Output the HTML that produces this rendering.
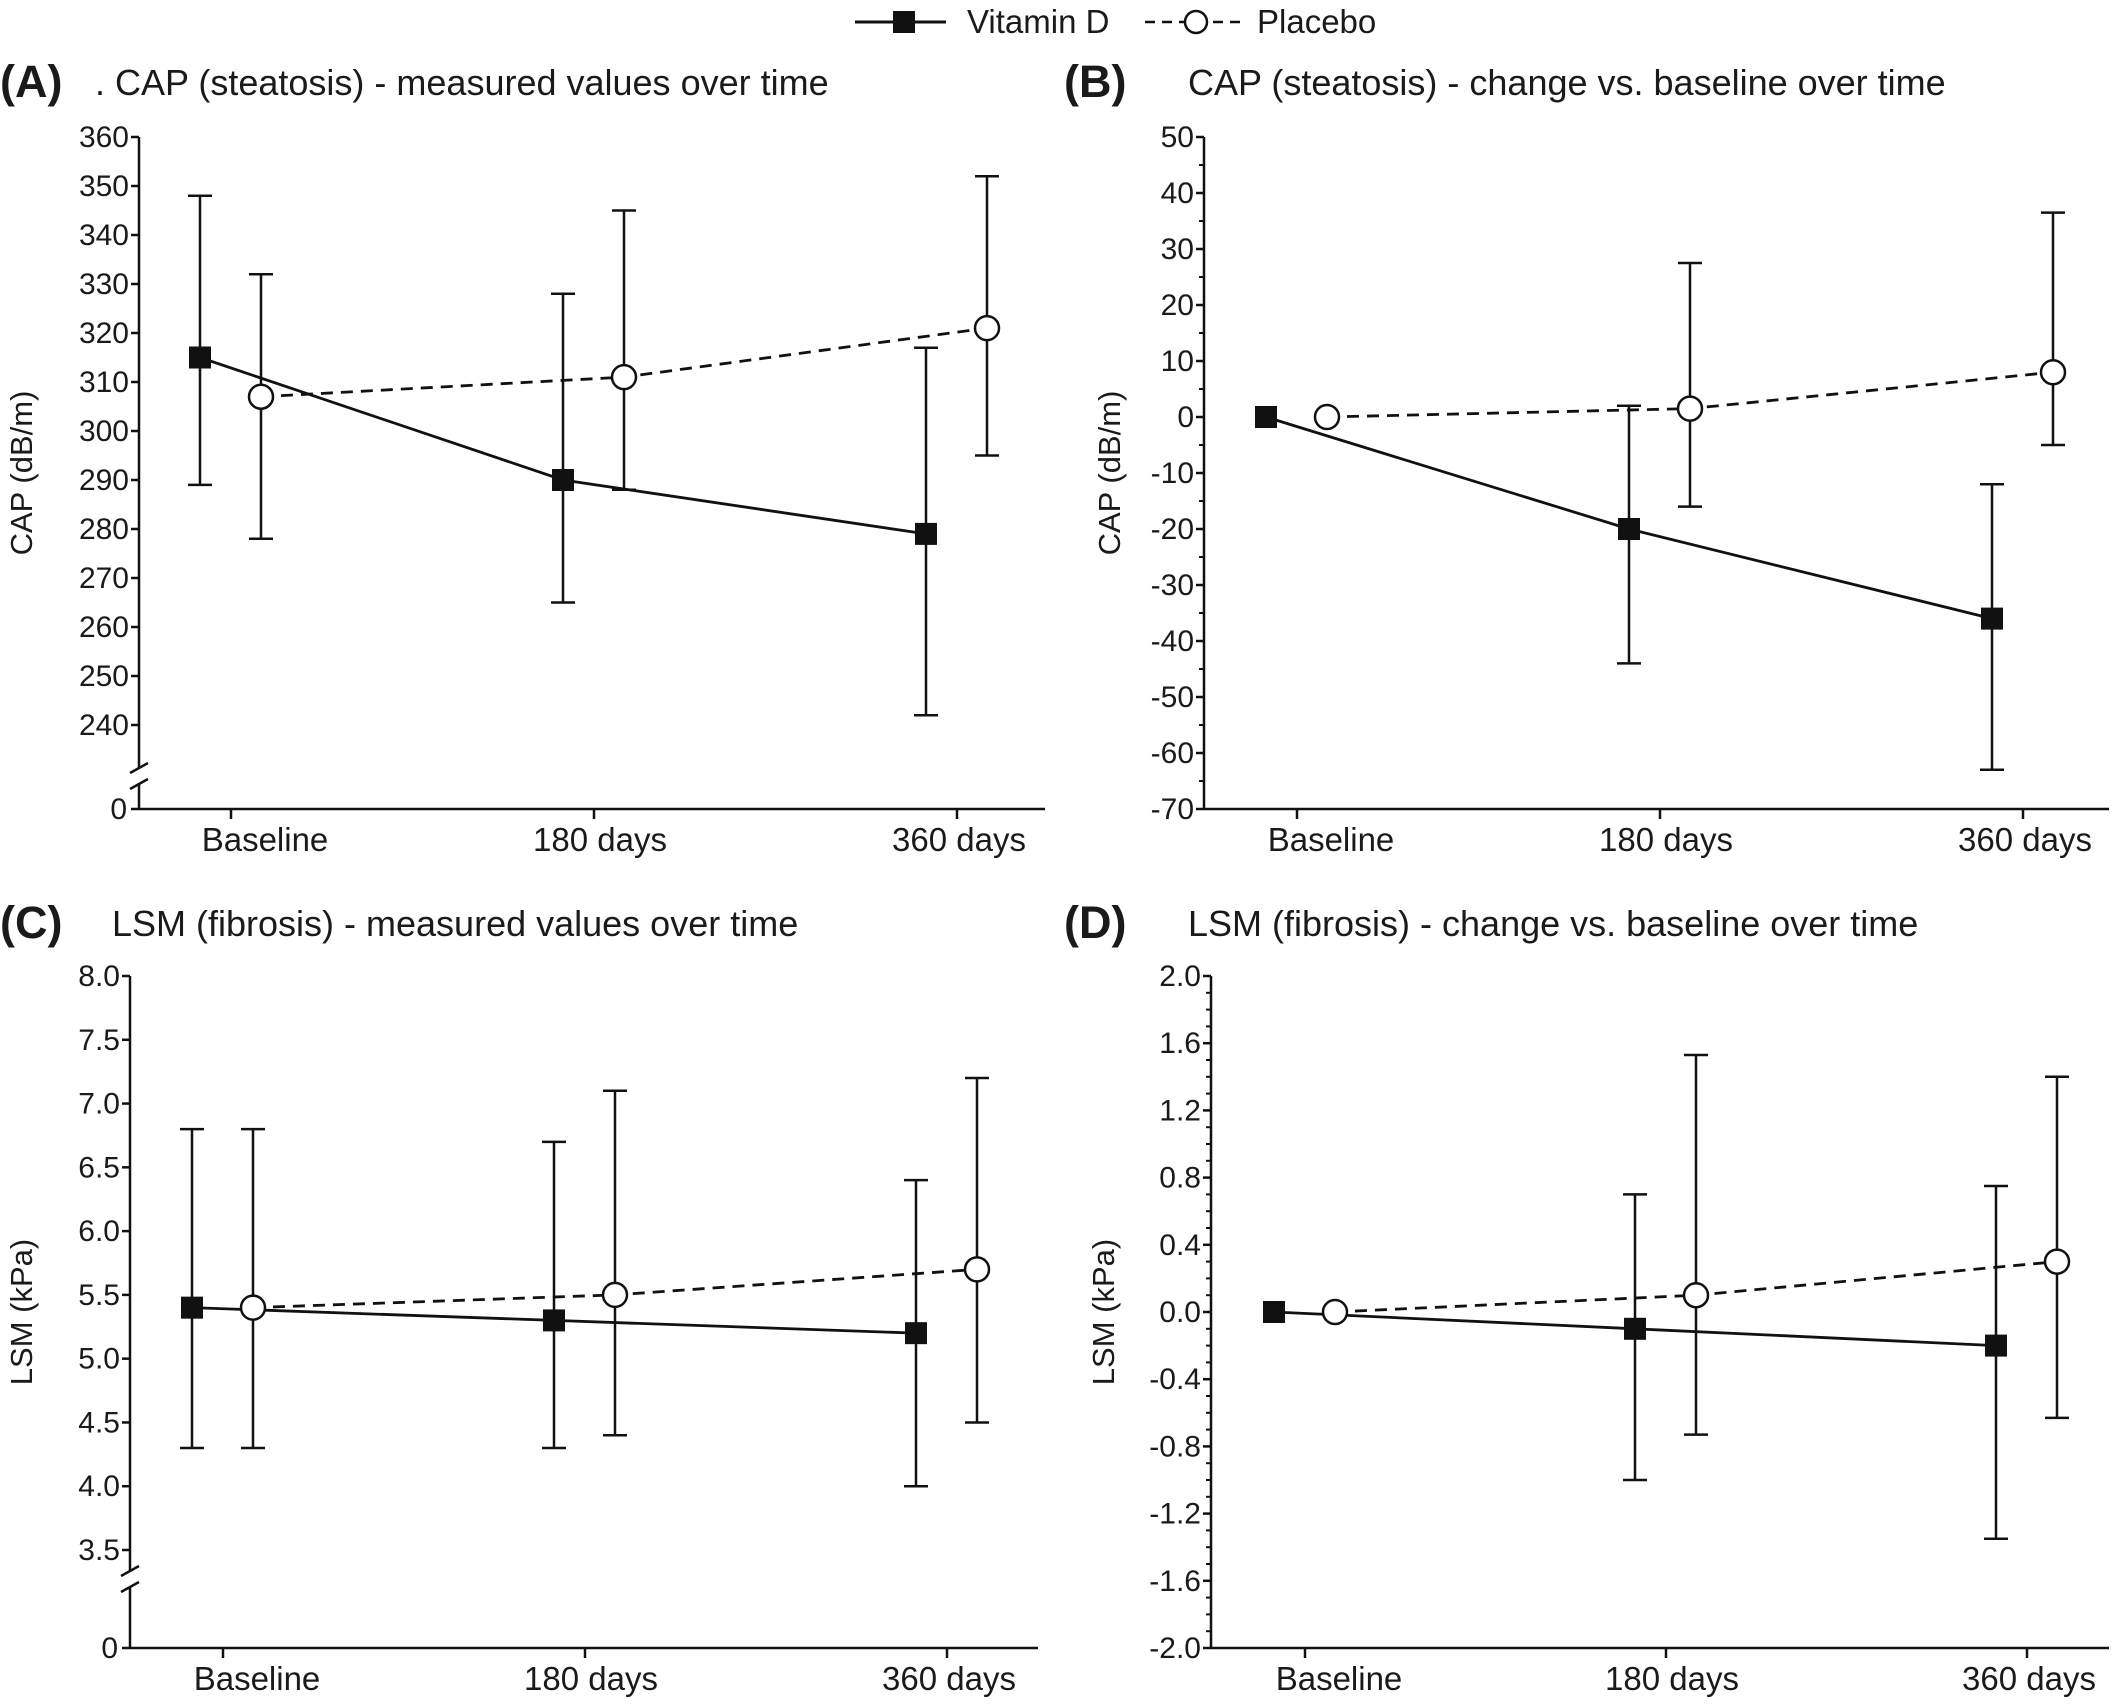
<!DOCTYPE html>
<html><head><meta charset="utf-8"><style>
html,body{margin:0;padding:0;background:#fff;}
svg{display:block;}
text{font-family:"Liberation Sans Narrow","Liberation Sans",sans-serif;fill:#1a1a1a;}
.tt{font-family:"Liberation Sans",sans-serif;}
</style></head><body>
<svg id="fig" width="2128" height="1705" viewBox="0 0 2128 1705" xmlns="http://www.w3.org/2000/svg">
<g>
<line x1="855" y1="22" x2="946" y2="22" stroke="#111" stroke-width="3"/>
<rect x="893" y="11" width="22" height="22" fill="#111"/>
<text x="967" y="33" font-size="33" class="tt">Vitamin D</text>
<line x1="1145" y1="22" x2="1244" y2="22" stroke="#111" stroke-width="2.5" stroke-dasharray="10,7"/>
<circle cx="1196" cy="22" r="11" fill="#fff" stroke="#111" stroke-width="2.5"/>
<text x="1257" y="33" font-size="33" class="tt">Placebo</text>
</g>
</svg>
<script>
const categories = ["Baseline","180 days","360 days"];
// Panel A
const aVitD = [315, 290, 279];
const aVitDLo = [289, 265, 242];
const aVitDHi = [348, 328, 317];
const aPlac = [307, 311, 321];
const aPlacLo = [278, 288, 295];
const aPlacHi = [332, 345, 352];
const aTicks = [240,250,260,270,280,290,300,310,320,330,340,350,360];
// Panel B
const bVitD = [0, -20, -36];
const bVitDLo = [0, -44, -63];
const bVitDHi = [0, 2, -12];
const bPlac = [0, 1.5, 8];
const bPlacLo = [0, -16, -5];
const bPlacHi = [0, 27.5, 36.5];
const bTicks = [-70,-60,-50,-40,-30,-20,-10,0,10,20,30,40,50];
// Panel C
const cVitD = [5.4, 5.3, 5.2];
const cVitDLo = [4.3, 4.3, 4.0];
const cVitDHi = [6.8, 6.7, 6.4];
const cPlac = [5.4, 5.5, 5.7];
const cPlacLo = [4.3, 4.4, 4.5];
const cPlacHi = [6.8, 7.1, 7.2];
const cTicks = [3.5,4.0,4.5,5.0,5.5,6.0,6.5,7.0,7.5,8.0];
// Panel D
const dVitD = [0, -0.1, -0.2];
const dVitDLo = [0, -1.0, -1.35];
const dVitDHi = [0, 0.7, 0.75];
const dPlac = [0, 0.1, 0.3];
const dPlacLo = [0, -0.73, -0.63];
const dPlacHi = [0, 1.53, 1.4];
const dTicks = [-2.0,-1.6,-1.2,-0.8,-0.4,0.0,0.4,0.8,1.2,1.6,2.0];

const NS = "http://www.w3.org/2000/svg";
const svg = document.getElementById("fig");
const labelShift = [34, 6, 2];
function mk(tag, attrs, parent){
  const e = document.createElementNS(NS, tag);
  for (const k in attrs) e.setAttribute(k, attrs[k]);
  (parent||svg).appendChild(e);
  return e;
}
function panel(cfg){
  const g = mk("g", {});
  
  
  const y = v => cfg.yTopPx + (cfg.vTop - v) * (cfg.yBotPx - cfg.yTopPx) / (cfg.vTop - cfg.vBot);
  const xc = i => cfg.xTicks[0] + i * (cfg.xTicks[1] - cfg.xTicks[0]);
  const L = mk("text", {x: cfg.lx, y: cfg.ty + 2, "font-size": 45, "font-weight": "bold", class: "tt"}, g);
  L.textContent = "(" + cfg.id.toUpperCase() + ")";
  
  
  const T = mk("text", {x: cfg.tx, y: cfg.ty, "font-size": 36, class: "tt"}, g);
  T.textContent = cfg.title;
  
  
  const yt = mk("text", {x: 0, y: 0, "font-size": 31, class: "tt", "text-anchor": "middle", transform: `translate(${cfg.ytx},${(cfg.yTopPx + cfg.axisY)/2}) rotate(-90)`}, g);
  yt.textContent = cfg.ylab;
  
  
  const ax = cfg.axisX;
  if (cfg.brk){
    mk("line", {x1: ax, y1: cfg.yTopPx, x2: ax, y2: cfg.brk - 8, stroke: "#111", "stroke-width": 2.5}, g);
    mk("line", {x1: ax, y1: cfg.brk + 8, x2: ax, y2: cfg.axisY, stroke: "#111", "stroke-width": 2.5}, g);
    mk("line", {x1: ax - 9, y1: cfg.brk - 3, x2: ax + 9, y2: cfg.brk - 13, stroke: "#111", "stroke-width": 2.5}, g);
    mk("line", {x1: ax - 9, y1: cfg.brk + 13, x2: ax + 9, y2: cfg.brk + 3, stroke: "#111", "stroke-width": 2.5}, g);
    mk("line", {x1: ax - 8, y1: cfg.axisY, x2: ax, y2: cfg.axisY, stroke: "#111", "stroke-width": 2.5}, g);
    const z = mk("text", {x: ax - 12, y: cfg.axisY + 10, "font-size": 30, "text-anchor": "end"}, g);
    z.textContent = "0";
    
    
  } else {
    mk("line", {x1: ax, y1: cfg.yTopPx, x2: ax, y2: cfg.axisY, stroke: "#111", "stroke-width": 2.5}, g);
  }
  mk("line", {x1: ax, y1: cfg.axisY, x2: cfg.xEnd, y2: cfg.axisY, stroke: "#111", "stroke-width": 2.5}, g);
  cfg.ticks.forEach(v => {
    mk("line", {x1: ax - 8, y1: y(v), x2: ax, y2: y(v), stroke: "#111", "stroke-width": 2.5}, g);
    const t = mk("text", {x: ax - 10, y: y(v) + 10, "font-size": 30, "text-anchor": "end"}, g);
    t.textContent = v.toFixed(cfg.dec);
    
    
  });
  if (cfg.minor){
    for (let i = 0; i < cfg.ticks.length - 1; i++){
      const step = (cfg.ticks[i+1] - cfg.ticks[i]) / cfg.minor;
      for (let k = 1; k < cfg.minor; k++){
        const v = cfg.ticks[i] + k * step;
        mk("line", {x1: ax - 5, y1: y(v), x2: ax, y2: y(v), stroke: "#111", "stroke-width": 2}, g);
      }
    }
  }
  categories.forEach((c, i) => {
    mk("line", {x1: xc(i), y1: cfg.axisY, x2: xc(i), y2: cfg.axisY + 10, stroke: "#111", "stroke-width": 2.5}, g);
    const t = mk("text", {x: xc(i) + labelShift[i], y: cfg.axisY + 42, "font-size": 33, "text-anchor": "middle", class: "tt"}, g);
    t.textContent = c;
    
    
  });
  const series = [
    {name: "vitamin-d", v: cfg.vd, lo: cfg.vdLo, hi: cfg.vdHi, off: -31, dash: null},
    {name: "placebo", v: cfg.pl, lo: cfg.plLo, hi: cfg.plHi, off: 30, dash: "12,8"}
  ];
  series.forEach(s => {
    const sg = mk("g", {}, g);
    
    
    const pts = s.v.map((v, i) => (xc(i) + s.off) + "," + y(v)).join(" ");
    const pl = mk("polyline", {points: pts, fill: "none", stroke: "#111", "stroke-width": 2.8}, sg);
    if (s.dash) pl.setAttribute("stroke-dasharray", s.dash);
    s.v.forEach((v, i) => {
      const x = xc(i) + s.off;
      if (s.hi[i] !== s.lo[i]){
        mk("line", {x1: x, y1: y(s.hi[i]), x2: x, y2: y(s.lo[i]), stroke: "#111", "stroke-width": 2.5}, sg);
        mk("line", {x1: x - 12, y1: y(s.hi[i]), x2: x + 12, y2: y(s.hi[i]), stroke: "#111", "stroke-width": 2.5}, sg);
        mk("line", {x1: x - 12, y1: y(s.lo[i]), x2: x + 12, y2: y(s.lo[i]), stroke: "#111", "stroke-width": 2.5}, sg);
      }
      let m;
      if (s.name === "vitamin-d") m = mk("rect", {x: x - 11, y: y(v) - 11, width: 22, height: 22, fill: "#111"}, sg);
      else m = mk("circle", {cx: x, cy: y(v), r: 12, fill: "#fff", stroke: "#111", "stroke-width": 2.5}, sg);
      
      
    });
  });
}
panel({id:"a", title:". CAP (steatosis) - measured values over time", lx:0, tx:95, ty:95, ytx:32,
  ylab:"CAP (dB/m)", axisX:139, xEnd:1045, axisY:809, brk:776, yTopPx:137, yBotPx:725, vTop:360, vBot:240,
  ticks:aTicks, dec:0, minor:0, xTicks:[231,594],
  vd:aVitD, vdLo:aVitDLo, vdHi:aVitDHi, pl:aPlac, plLo:aPlacLo, plHi:aPlacHi});
panel({id:"b", title:"CAP (steatosis) - change vs. baseline over time", lx:1064, tx:1188, ty:95, ytx:1120,
  ylab:"CAP (dB/m)", axisX:1204, xEnd:2109, axisY:809, brk:0, yTopPx:137, yBotPx:809, vTop:50, vBot:-70,
  ticks:bTicks, dec:0, minor:2, xTicks:[1297,1660],
  vd:bVitD, vdLo:bVitDLo, vdHi:bVitDHi, pl:bPlac, plLo:bPlacLo, plHi:bPlacHi});
panel({id:"c", title:"LSM (fibrosis) - measured values over time", lx:0, tx:112, ty:936, ytx:32,
  ylab:"LSM (kPa)", axisX:130, xEnd:1038, axisY:1648, brk:1579, yTopPx:976, yBotPx:1550, vTop:8.0, vBot:3.5,
  ticks:cTicks, dec:1, minor:0, xTicks:[223,585],
  vd:cVitD, vdLo:cVitDLo, vdHi:cVitDHi, pl:cPlac, plLo:cPlacLo, plHi:cPlacHi});
panel({id:"d", title:"LSM (fibrosis) - change vs. baseline over time", lx:1064, tx:1188, ty:936, ytx:1114,
  ylab:"LSM (kPa)", axisX:1211, xEnd:2109, axisY:1648, brk:0, yTopPx:976, yBotPx:1648, vTop:2.0, vBot:-2.0,
  ticks:dTicks, dec:1, minor:4, xTicks:[1305,1666],
  vd:dVitD, vdLo:dVitDLo, vdHi:dVitDHi, pl:dPlac, plLo:dPlacLo, plHi:dPlacHi});
</script>
</body></html>
